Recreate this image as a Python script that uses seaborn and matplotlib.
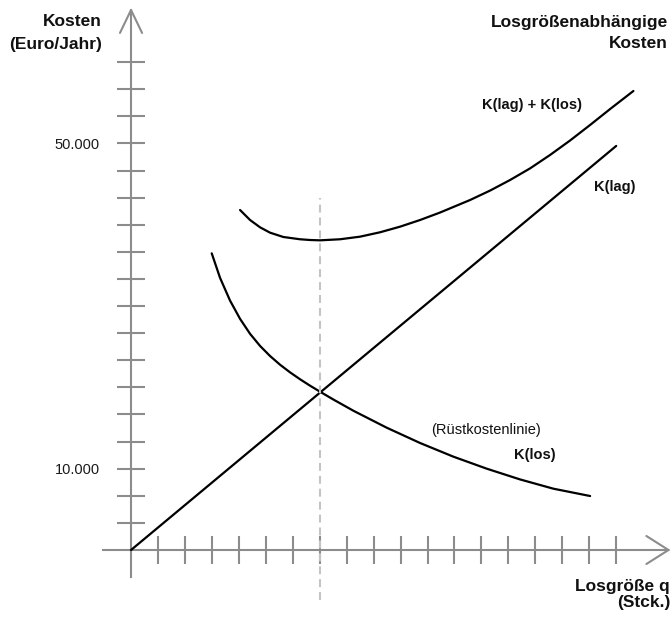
import matplotlib
matplotlib.use("Agg")
import matplotlib.pyplot as plt
import seaborn as sns

# Losgröße q in tick units, Kosten in Euro/Jahr
q_lag = [0, 18]
k_lag = [0, 49700]

q_los = [2.994, 3.302, 3.673, 4.045, 4.416, 4.787, 5.158, 5.529, 5.900, 6.271,
         6.642, 7.013, 7.506, 8.249, 9.488, 10.724, 11.959, 13.199, 14.434,
         15.670, 17.032]
k_los = [36490, 33480, 30680, 28430, 26590, 25100, 23860, 22790, 21850, 21000,
         20210, 19470, 18510, 17130, 15040, 13160, 11480, 10000, 8680,
         7540, 6640]

q_sum = [4.045, 4.416, 4.787, 5.158, 5.651, 6.271, 6.642, 7.013, 7.755, 8.497,
         9.239, 9.981, 10.724, 11.466, 12.579, 13.321, 14.063, 14.805, 15.547,
         16.289, 17.032, 17.774, 18.638]
k_sum = [41820, 40590, 39690, 39030, 38500, 38220, 38130, 38090, 38220, 38540,
         39080, 39770, 40590, 41510, 43050, 44210, 45510, 46940, 48590,
         50370, 52280, 54240, 56460]

q_opt = 7
opt_range = [-6150, 43270]

x_ticks = list(range(1, 19))
y_step = 10000 / 3
y_ticks = [i * y_step for i in range(1, 19)]
y_labels = {10000: "10.000", 50000: "50.000"}

AXIS_GRAY = "#8c8c8c"

sns.set_theme(style="white")
plt.rcParams["font.family"] = ["Liberation Sans", "DejaVu Sans"]

W, H = 672, 618
fig = plt.figure(figsize=(W / 100, H / 100), dpi=100)
ax = fig.add_axes([0, 0, 1, 1])
ax.set_xlim(-4.861, 20.07)
ax.set_ylim(-8364, 67650)

# curves
sns.lineplot(x=q_lag, y=k_lag, sort=False, color="black", lw=1.6, ax=ax, zorder=4)
sns.lineplot(x=q_los, y=k_los, sort=False, color="black", lw=1.6, ax=ax, zorder=4)
sns.lineplot(x=q_sum, y=k_sum, sort=False, color="black", lw=1.6, ax=ax, zorder=4)
ax.plot([q_opt, q_opt], opt_range, color="#c4c4c4", lw=1.5,
        ls=(0, (3.8, 2.4)), zorder=5)

# axes through the origin
for side in ["top", "right"]:
    ax.spines[side].set_visible(False)
for side in ["left", "bottom"]:
    ax.spines[side].set_color(AXIS_GRAY)
    ax.spines[side].set_linewidth(1.5)
    ax.spines[side].set_position(("data", 0))
ax.spines["bottom"].set_bounds(-1.04, 19.94)
ax.spines["left"].set_bounds(-3333, 66420)

ax.set_xticks(x_ticks)
ax.set_xticklabels([""] * len(x_ticks))
ax.set_yticks(y_ticks)
ax.set_yticklabels([y_labels.get(round(v), "") for v in y_ticks])
ax.tick_params(axis="both", direction="inout", length=20, width=1.5,
               color=AXIS_GRAY, labelsize=10.5, labelcolor="#1a1a1a",
               bottom=True, left=True)
ax.tick_params(axis="y", pad=12.3)
ax.set_xlabel("")
ax.set_ylabel("")

# open arrow heads
ax.plot([-0.41, 0, 0.41], [63600, 66420, 63600], color=AXIS_GRAY, lw=1.5,
        clip_on=False, solid_joinstyle="miter")
ax.plot([19.12, 19.94, 19.12], [1723, 0, -1723], color=AXIS_GRAY, lw=1.5,
        clip_on=False, solid_joinstyle="miter")


def px_text(x, y, s, ha="left", bold=True, size=10.5):
    fig.text(x / W, 1 - y / H, s, ha=ha, va="center",
             fontsize=size, fontweight="bold" if bold else "normal",
             color="#111111")


px_text(102, 22, "Kosten", ha="right", size=12.5)
px_text(102, 44, "(Euro/Jahr)", ha="right", size=12.5)
px_text(668, 22, "Losgrößenabhängige", ha="right", size=12.5)
px_text(668, 43, "Kosten", ha="right", size=12.5)
px_text(532, 105, "K(lag) + K(los)", ha="center")
px_text(615, 187, "K(lag)", ha="center")
px_text(486, 430, "(Rüstkostenlinie)", ha="center", bold=False)
px_text(535, 455, "K(los)", ha="center")
px_text(670, 586, "Losgröße q", ha="right", size=12.5)
px_text(671, 603, "(Stck.)", ha="right", size=12.5)

fig.savefig("out.png", dpi=100)
